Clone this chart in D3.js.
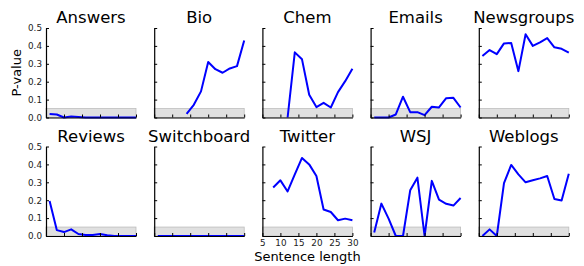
<!DOCTYPE html>
<html>
<head>
<meta charset="utf-8">
<script src="https://cdn.jsdelivr.net/npm/d3@7"></script>
<style>
  body { margin: 0; background: #fff; }
  svg { display: block; font-family: "DejaVu Sans", sans-serif; }
</style>
</head>
<body>
<svg id="chart" width="584" height="266"></svg>
<script>
// panel names, row by row
const domains = ['Answers', 'Bio', 'Chem', 'Emails', 'Newsgroups',
                 'Reviews', 'Switchboard', 'Twitter', 'WSJ', 'Weblogs'];
// p-values per sentence length
const answersX = [6, 8, 10, 12, 14, 16, 18, 20, 22, 24, 26, 28, 30];
const answersY = [0.02, 0.017, 0.0, 0.006, 0.003, 0.0, 0.0, 0.0, 0.0, 0.0, 0.0, 0.0, 0.0];
const bioX = [14, 16, 18, 20, 22, 24, 26, 28, 30];
const bioY = [0.02, 0.071, 0.146, 0.31, 0.27, 0.25, 0.274, 0.287, 0.43];
const chemX = [12, 14, 16, 18, 20, 22, 24, 26, 28, 30];
const chemY = [0.0, 0.364, 0.325, 0.127, 0.058, 0.082, 0.056, 0.142, 0.203, 0.272];
const emailsX = [6, 8, 10, 12, 14, 16, 18, 20, 22, 24, 26, 28, 30];
const emailsY = [0.0, 0.0, 0.0, 0.017, 0.116, 0.03, 0.03, 0.013, 0.06, 0.056, 0.108, 0.11, 0.056];
const newsX = [6, 8, 10, 12, 14, 16, 18, 20, 22, 24, 26, 28, 30];
const newsY = [0.343, 0.377, 0.354, 0.414, 0.416, 0.259, 0.465, 0.40, 0.42, 0.444, 0.392, 0.384, 0.362];
const reviewsX = [6, 8, 10, 12, 14, 16, 18, 20, 22, 24, 26, 28, 30];
const reviewsY = [0.196, 0.033, 0.022, 0.037, 0.011, 0.005, 0.005, 0.011, 0.004, 0.0, 0.0, 0.0, 0.0];
const switchX = [6, 8, 10, 12, 14, 16, 18, 20, 22, 24, 26, 28, 30];
const switchY = [0, 0, 0, 0, 0, 0, 0, 0, 0, 0, 0, 0, 0];
const twitterX = [8, 10, 12, 14, 16, 18, 20, 22, 24, 26, 28, 30];
const twitterY = [0.271, 0.311, 0.249, 0.344, 0.436, 0.40, 0.335, 0.148, 0.134, 0.088, 0.097, 0.088];
const wsjX = [6, 8, 10, 12, 14, 16, 18, 20, 22, 24, 26, 28, 30];
const wsjY = [0.02, 0.181, 0.097, 0.0, 0.0, 0.255, 0.326, 0.0, 0.308, 0.203, 0.18, 0.17, 0.212];
const weblogsX = [6, 8, 10, 12, 14, 16, 18, 20, 22, 24, 26, 28, 30];
const weblogsY = [0.0, 0.037, 0.0, 0.295, 0.397, 0.344, 0.30, 0.311, 0.322, 0.335, 0.207, 0.198, 0.348];

const xTicks = [5, 10, 15, 20, 25, 30];
const yTicks = [0.0, 0.1, 0.2, 0.3, 0.4, 0.5];
const threshold = 0.05;

const seriesX = [answersX, bioX, chemX, emailsX, newsX, reviewsX, switchX, twitterX, wsjX, weblogsX];
const seriesY = [answersY, bioY, chemY, emailsY, newsY, reviewsY, switchY, twitterY, wsjY, weblogsY];

const panelW = 90, panelH = 89.5;
const colX = d3.range(5).map(i => 46 + i * 108.2);
const rowY = [28, 146.5];

const svg = d3.select('#chart');
const x = d3.scaleLinear().domain([5, 30]).range([0, panelW]);
const y = d3.scaleLinear().domain([0, 0.5]).range([panelH, 0]);
const line = d3.line().x(d => x(d[0])).y(d => y(d[1]));

domains.forEach((name, i) => {
    const col = i % 5, row = Math.floor(i / 5);
    const g = svg.append('g')
        .attr('transform', `translate(${colX[col]},${rowY[row]})`);

    // significance band
    g.append('rect')
        .attr('x', x(5)).attr('width', x(30) - x(5))
        .attr('y', y(threshold)).attr('height', y(0) - y(threshold))
        .attr('fill', '#e0e0e0')
        .attr('stroke', '#bdbdbd')
        .attr('stroke-width', 0.8);

    const pts = seriesX[i].map((v, k) => [v, seriesY[i][k]]);
    g.append('path')
        .datum(pts)
        .attr('d', line)
        .attr('fill', 'none')
        .attr('stroke', '#0000ff')
        .attr('stroke-width', 2)
        .attr('stroke-linejoin', 'round');

    const yAxis = d3.axisLeft(y).tickValues(yTicks).tickSize(-3).tickSizeOuter(0)
        .tickPadding(4).tickFormat(col === 0 ? d3.format('.1f') : '');
    const gy = g.append('g').call(yAxis);

    const xAxis = d3.axisBottom(x).tickValues(xTicks).tickSize(-3).tickSizeOuter(0)
        .tickPadding(4).tickFormat(name === 'Twitter' ? d3.format('d') : '');
    const gx = g.append('g').attr('transform', `translate(0,${panelH})`).call(xAxis);

    [gx, gy].forEach(a => {
        a.select('.domain').attr('stroke', '#000').attr('stroke-width', 1.2);
        a.selectAll('.tick line').attr('stroke', '#000');
        a.selectAll('.tick text').attr('fill', '#222')
            .style('font-family', '"DejaVu Sans", sans-serif').style('font-size', '8.8px');
    });

    g.append('text')
        .attr('x', panelW / 2).attr('y', -5)
        .attr('text-anchor', 'middle')
        .style('font-size', '16.5px')
        .attr('fill', '#000')
        .text(name);
});

svg.append('text')
    .attr('transform', `translate(21,${rowY[0] + panelH / 2}) rotate(-90)`)
    .attr('text-anchor', 'middle')
    .style('font-size', '13px')
    .text('P-value');

svg.append('text')
    .attr('x', colX[2] + panelW / 2).attr('y', 261)
    .attr('text-anchor', 'middle')
    .style('font-size', '13px')
    .text('Sentence length');
</script>
</body>
</html>
